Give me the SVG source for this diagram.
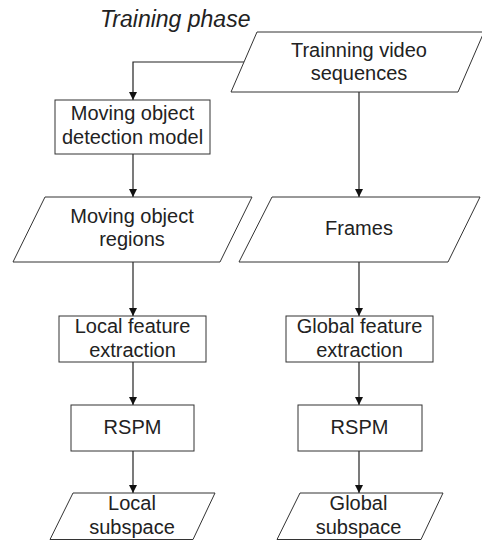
<svg xmlns="http://www.w3.org/2000/svg" width="482" height="540" viewBox="0 0 482 540">
<defs>
<style>
.n{fill:#fff;stroke:#333;stroke-width:1}
.t{font-family:"Liberation Sans",Arial,sans-serif;font-size:20px;fill:#222;text-anchor:middle}
.c{fill:none;stroke:#222;stroke-width:1.2}
</style>
<marker id="ah" viewBox="0 0 10 10" refX="10" refY="5" markerWidth="8" markerHeight="8" markerUnits="userSpaceOnUse" orient="auto">
<path d="M0,0 L10,5 L0,10 Z" fill="#111"/>
</marker>
</defs>
<rect width="482" height="540" fill="#fff"/>
<text x="100" y="26.5" font-family="Liberation Sans,Arial,sans-serif" font-size="23" font-style="italic" fill="#222">Training phase</text>
<g id="connectors">
<path class="c" d="M244,62 H133 V100" marker-end="url(#ah)"/>
<path class="c" d="M359,92 V197" marker-end="url(#ah)"/>
<path class="c" d="M133,154 V197" marker-end="url(#ah)"/>
<path class="c" d="M133,262 V316" marker-end="url(#ah)"/>
<path class="c" d="M359,262 V316" marker-end="url(#ah)"/>
<path class="c" d="M133,362 V405" marker-end="url(#ah)"/>
<path class="c" d="M359,362 V405" marker-end="url(#ah)"/>
<path class="c" d="M133,451 V493" marker-end="url(#ah)"/>
<path class="c" d="M359,451 V493" marker-end="url(#ah)"/>
</g>
<g id="video">
<polygon class="n" points="257,32 484,32 458,92 231,92"/>
<text class="t" x="359" y="57">Trainning video</text>
<text class="t" x="359" y="80">sequences</text>
</g>
<g id="detection">
<rect class="n" x="55" y="100" width="155" height="54"/>
<text class="t" x="132.5" y="119.5">Moving object</text>
<text class="t" x="132.5" y="143.5">detection model</text>
</g>
<g id="regions">
<polygon class="n" points="45,197 252,197 220,262 13,262"/>
<text class="t" x="132" y="223">Moving object</text>
<text class="t" x="132" y="246">regions</text>
</g>
<g id="frames">
<polygon class="n" points="272,197 480,197 448,262 239,262"/>
<text class="t" x="359" y="235">Frames</text>
</g>
<g id="localfeat">
<rect class="n" x="59" y="316" width="147" height="46"/>
<text class="t" x="132.5" y="333">Local feature</text>
<text class="t" x="132.5" y="357">extraction</text>
</g>
<g id="globalfeat">
<rect class="n" x="286" y="316" width="147" height="46"/>
<text class="t" x="359.5" y="333">Global feature</text>
<text class="t" x="359.5" y="357">extraction</text>
</g>
<g id="rspm1">
<rect class="n" x="71" y="405" width="123" height="46"/>
<text class="t" x="132.5" y="433.5">RSPM</text>
</g>
<g id="rspm2">
<rect class="n" x="298" y="405" width="124" height="46"/>
<text class="t" x="359.5" y="433.5">RSPM</text>
</g>
<g id="localsub">
<polygon class="n" points="73,493 215,493 193,539.5 50,539.5"/>
<text class="t" x="132" y="509.5">Local</text>
<text class="t" x="132" y="533.5">subspace</text>
</g>
<g id="globalsub">
<polygon class="n" points="300,493 443,493 421,539.5 277,539.5"/>
<text class="t" x="358.5" y="509.5">Global</text>
<text class="t" x="358.5" y="533.5">subspace</text>
</g>
</svg>
